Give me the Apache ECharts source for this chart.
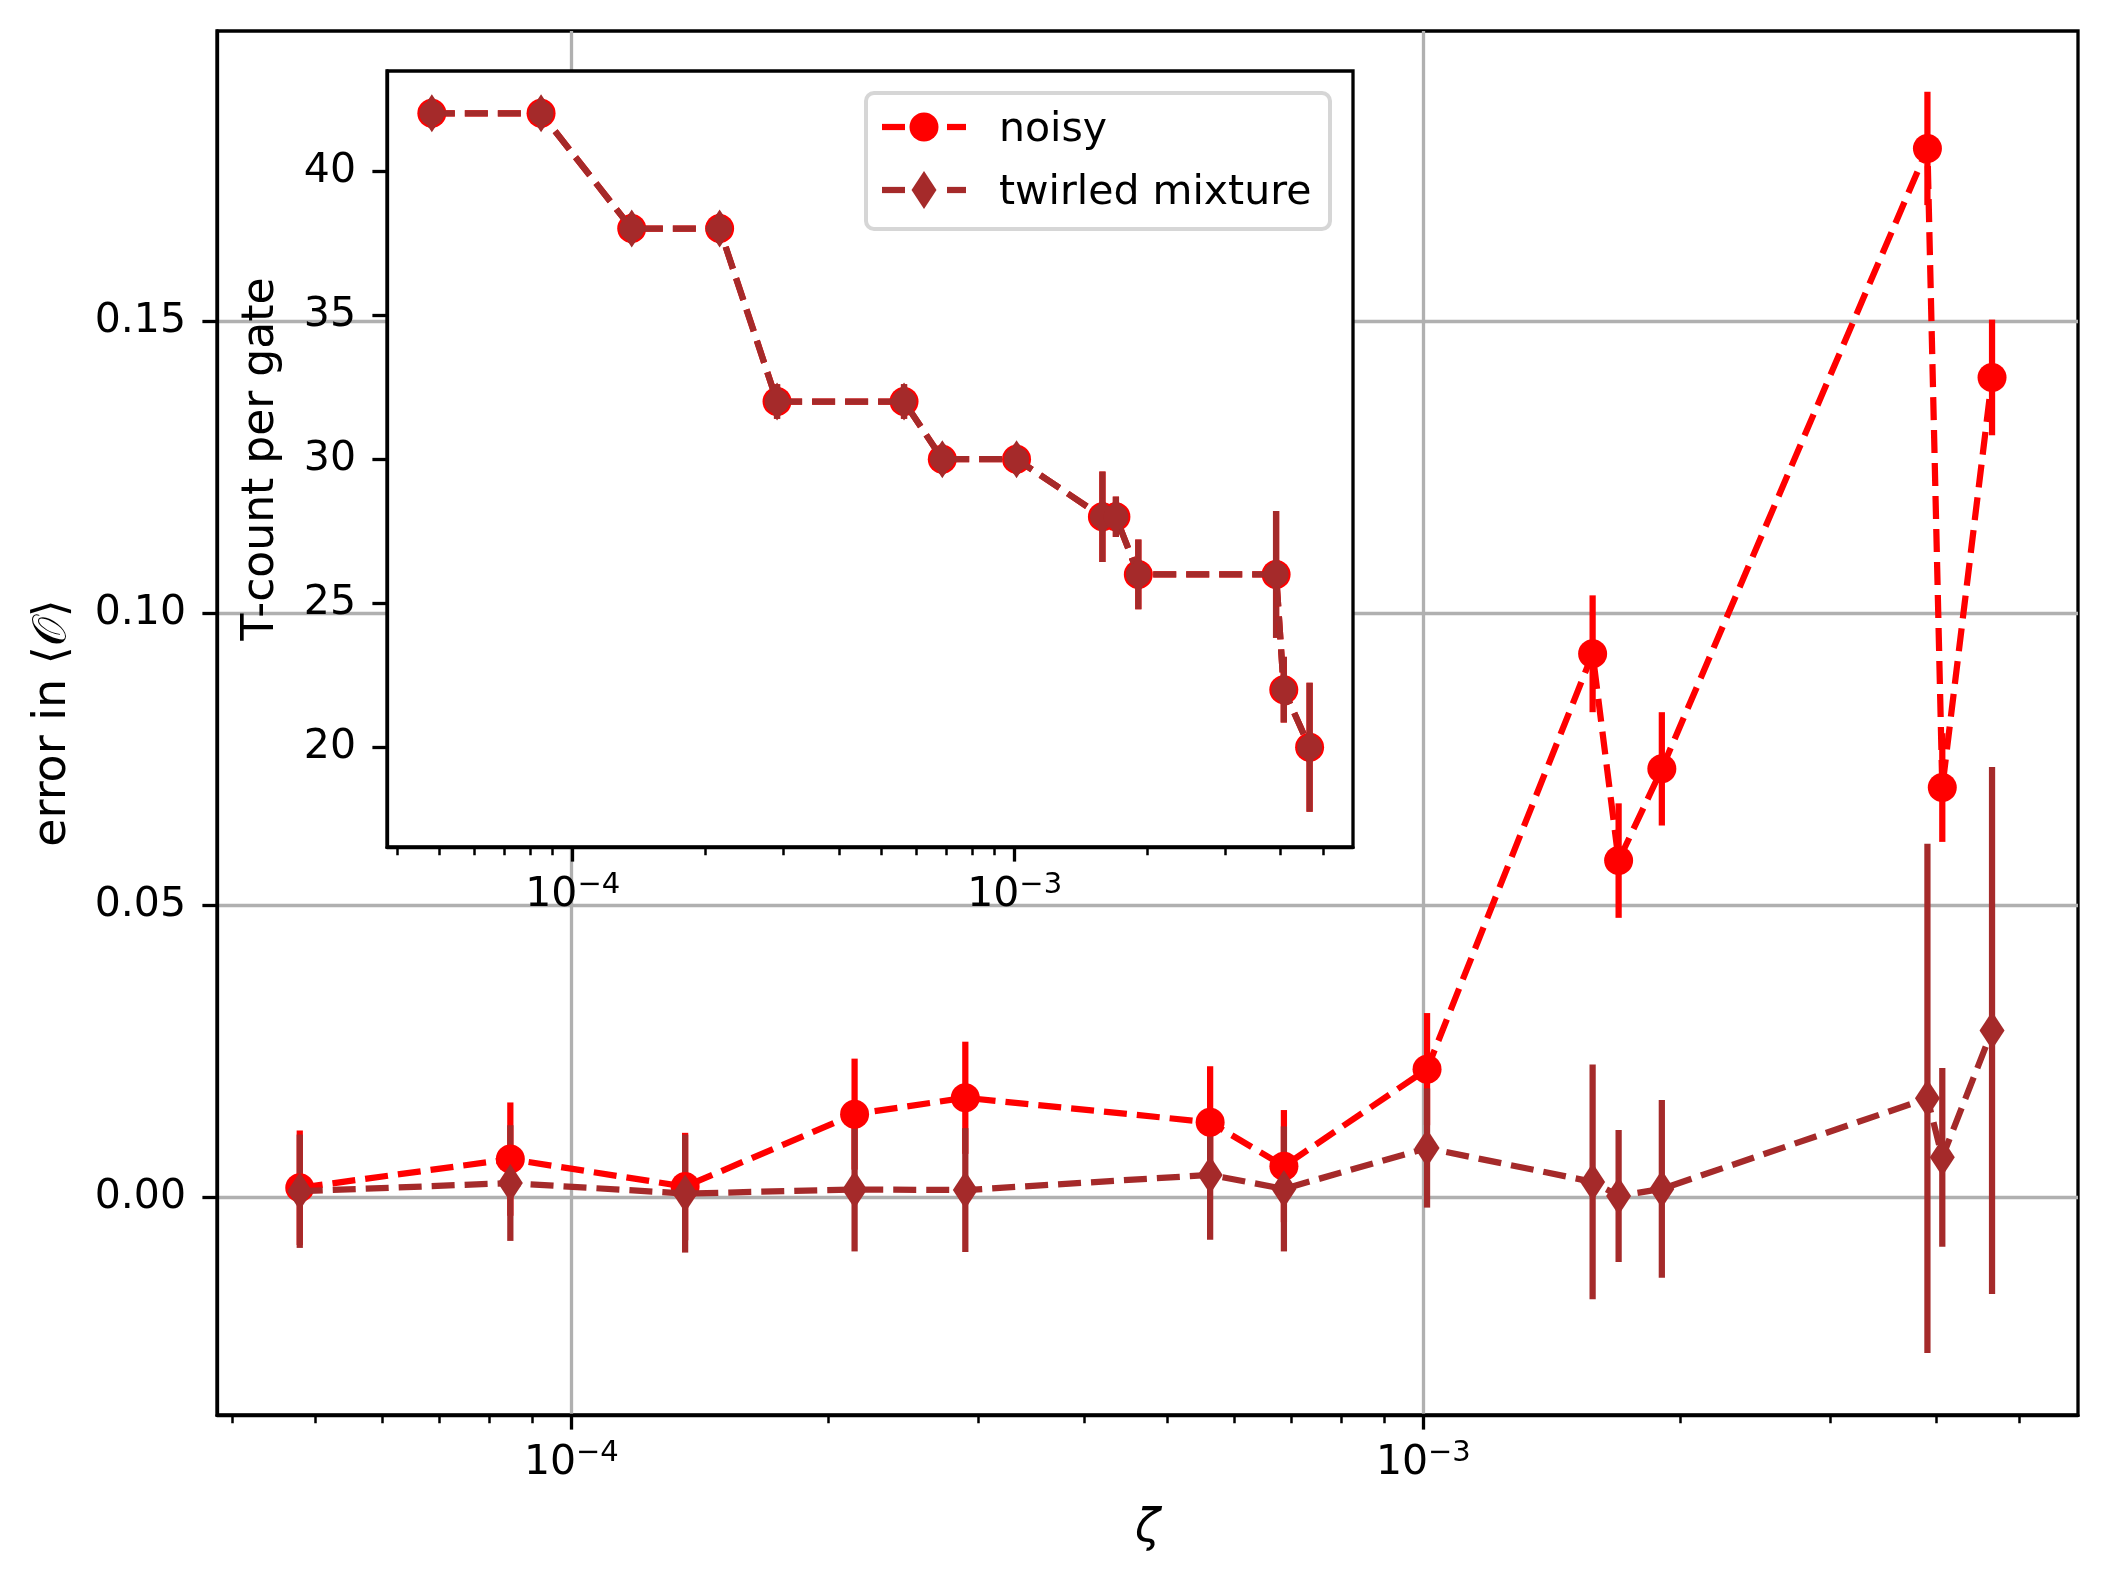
<!DOCTYPE html>
<html>
<head>
<meta charset="utf-8">
<script src="https://cdn.jsdelivr.net/npm/echarts@6/dist/echarts.min.js"></script>
<style>
html,body{margin:0;padding:0;background:#fff;}
#chart{width:2106px;height:1586px;}
</style>
</head>
<body>
<div id="chart"></div>
<script>
// ---- data ----
const zeta = [4.80e-5, 8.48e-5, 1.36e-4, 2.15e-4, 2.90e-4, 5.62e-4, 6.86e-4, 1.01e-3, 1.58e-3, 1.695e-3, 1.905e-3, 3.905e-3, 4.065e-3, 4.65e-3];
const noisyError = [0.0017, 0.0066, 0.0019, 0.0143, 0.0171, 0.0129, 0.0054, 0.0220, 0.0931, 0.0577, 0.0734, 0.1796, 0.0702, 0.1404];
const noisyStd = [0.0098, 0.0097, 0.0092, 0.0095, 0.0096, 0.0096, 0.0096, 0.0096, 0.0100, 0.0098, 0.0097, 0.0097, 0.0093, 0.0099];
const twirledError = [0.0011, 0.0025, 0.0007, 0.0014, 0.0013, 0.0039, 0.0015, 0.0085, 0.0027, 0.0003, 0.0015, 0.0170, 0.0069, 0.0286];
const twirledStd = [0.0097, 0.0099, 0.0101, 0.0106, 0.0106, 0.0111, 0.0107, 0.0102, 0.0201, 0.0113, 0.0152, 0.0436, 0.0153, 0.0451];
const tcountNoisy = [42, 42, 38, 38, 32, 32, 30, 30, 28, 28, 26, 26, 22, 20];
const tcountTwirled = [42, 42, 38, 38, 32, 32, 30, 30, 28, 28, 26, 26, 22, 20];
const tcountStd = [0.5, 0.5, 0.5, 0.5, 0.6, 0.6, 0.5, 0.5, 1.57, 0.7, 1.21, 2.2, 1.14, 2.24];

const xMajorTicks = [1e-4, 1e-3];
const xTickExponents = ['\u22124', '\u22123'];
const xMinorTicks = [4e-5, 5e-5, 6e-5, 7e-5, 8e-5, 9e-5, 2e-4, 3e-4, 4e-4, 5e-4, 6e-4, 7e-4, 8e-4, 9e-4, 2e-3, 3e-3, 4e-3, 5e-3];
const mainYTicks = [0, 0.05, 0.10, 0.15];
const insetYTicks = [20, 25, 30, 35, 40];

const seriesNames = ['noisy', 'twirled mixture'];
const RED = '#ff0000', BROWN = '#a52a2a';
const FONT = 'DejaVu Sans';
const FS = 41;
const NAME_FS = 46;

const chart = echarts.init(document.getElementById('chart'), null, {renderer: 'canvas'});

function xLabel(v) {
  const i = xMajorTicks.findIndex(t => Math.abs(Math.log10(t) - Math.log10(v)) < 1e-6);
  return i < 0 ? '' : '{b|10}{s|' + xTickExponents[i] + '}';
}
const xRich = {
  b: {fontFamily: FONT, fontSize: FS, lineHeight: 48, color: '#000'},
  s: {fontFamily: FONT, fontSize: 29, lineHeight: 26, verticalAlign: 'top', color: '#000'}
};

function barRenderer(color) {
  return function (params, api) {
    const x = api.value(0), y = api.value(1), e = api.value(2);
    const a = api.coord([x, y - e]);
    const b = api.coord([x, y + e]);
    return {type: 'line', shape: {x1: a[0], y1: a[1], x2: b[0], y2: b[1]},
      style: {stroke: color, lineWidth: 6.25, lineCap: 'butt'}};
  };
}
function triples(xs, ys, es) { return xs.map((x, i) => [x, ys[i], es[i]]); }
function pairs(xs, ys) { return xs.map((x, i) => [x, ys[i]]); }

const axisLineStyle = {show: true, onZero: false, lineStyle: {color: '#000', width: 3.3}};
const majorTick = (vals) => ({show: true, customValues: vals, length: 14.6, inside: false, lineStyle: {color: '#000', width: 3.3}});
const minorTick = (vals) => ({show: true, customValues: vals, length: 8.3, inside: false, lineStyle: {color: '#000', width: 2.5}});
const DASH = [23, 10];

const twirledInsetSymbol = 'path://M12.5,0 L25,19 L12.5,38 L0,19 Z M0,19 A12.5,12.5 0 1 1 25,19 A12.5,12.5 0 1 1 0,19 Z';

const mainXMin = 3.838e-5, mainXMax = 5.866e-3;
const insetXMin = 3.80e-5, insetXMax = 5.83e-3;

const option = {
  animation: false,
  backgroundColor: '#fff',
  textStyle: {fontFamily: FONT},
  grid: [
    {left: 217, top: 31, width: 1861, height: 1384, show: true, borderColor: '#000', borderWidth: 3.3, backgroundColor: '#fff'},
    {left: 387, top: 71, width: 966, height: 776, show: true, borderColor: '#000', borderWidth: 3.3, backgroundColor: '#fff', zlevel: 1}
  ],
  xAxis: [
    {type: 'log', gridIndex: 0, min: mainXMin, max: mainXMax,
      axisLine: axisLineStyle, axisTick: majorTick(xMajorTicks),
      axisLabel: {customValues: xMajorTicks, formatter: xLabel, rich: xRich, margin: 24},
      splitLine: {show: true, lineStyle: {color: '#b0b0b0', width: 3.3}},
      name: '\u03b6', nameLocation: 'middle', nameGap: 87,
      nameTextStyle: {fontFamily: FONT, fontStyle: 'italic', fontSize: NAME_FS, color: '#000', lineHeight: 54}},
    {type: 'log', gridIndex: 0, min: mainXMin, max: mainXMax, position: 'bottom',
      axisLine: {show: false, onZero: false}, axisTick: minorTick(xMinorTicks), axisLabel: {show: false}, splitLine: {show: false}},
    {type: 'log', gridIndex: 1, min: insetXMin, max: insetXMax, zlevel: 1,
      axisLine: axisLineStyle, axisTick: majorTick(xMajorTicks),
      axisLabel: {customValues: xMajorTicks, formatter: xLabel, rich: xRich, margin: 24},
      splitLine: {show: false}},
    {type: 'log', gridIndex: 1, min: insetXMin, max: insetXMax, position: 'bottom', zlevel: 1,
      axisLine: {show: false, onZero: false}, axisTick: minorTick(xMinorTicks), axisLabel: {show: false}, splitLine: {show: false}}
  ],
  yAxis: [
    {type: 'value', gridIndex: 0, min: -0.0372, max: 0.1997,
      axisLine: axisLineStyle, axisTick: majorTick(mainYTicks),
      axisLabel: {customValues: mainYTicks, formatter: v => v.toFixed(2), fontFamily: FONT, fontSize: FS, color: '#000', margin: 31},
      splitLine: {show: true, lineStyle: {color: '#b0b0b0', width: 3.3}},
      name: 'error in \u27e8\ud835\udcaa\u27e9', nameLocation: 'middle', nameGap: 137,
      nameTextStyle: {fontFamily: FONT, fontSize: NAME_FS, color: '#000', lineHeight: 54}},
    {type: 'value', gridIndex: 1, min: 16.54, max: 43.47, zlevel: 1,
      axisLine: axisLineStyle, axisTick: majorTick(insetYTicks),
      axisLabel: {customValues: insetYTicks, formatter: v => String(v), fontFamily: FONT, fontSize: FS, color: '#000', margin: 31},
      splitLine: {show: false},
      name: 'T-count per gate', nameLocation: 'middle', nameGap: 99,
      nameTextStyle: {fontFamily: FONT, fontSize: 44, color: '#000', lineHeight: 52}}
  ],
  series: [
    // main panel
    {type: 'custom', name: seriesNames[0] + ' err', xAxisIndex: 0, yAxisIndex: 0, z: 2,
      renderItem: barRenderer(RED), encode: {x: 0, y: 1}, data: triples(zeta, noisyError, noisyStd)},
    {type: 'custom', name: seriesNames[1] + ' err', xAxisIndex: 0, yAxisIndex: 0, z: 3,
      renderItem: barRenderer(BROWN), encode: {x: 0, y: 1}, data: triples(zeta, twirledError, twirledStd)},
    {type: 'line', name: seriesNames[0], xAxisIndex: 0, yAxisIndex: 0, z: 4,
      data: pairs(zeta, noisyError), symbol: 'circle', symbolSize: 29, showSymbol: true,
      lineStyle: {color: RED, width: 6.25, type: DASH}, itemStyle: {color: RED, borderWidth: 0}},
    {type: 'line', name: seriesNames[1], xAxisIndex: 0, yAxisIndex: 0, z: 5,
      data: pairs(zeta, twirledError), symbol: 'diamond', symbolSize: [25, 38], showSymbol: true,
      lineStyle: {color: BROWN, width: 6.25, type: DASH}, itemStyle: {color: BROWN, borderWidth: 0}},
    // inset panel
    {type: 'custom', name: seriesNames[0] + ' T err', xAxisIndex: 2, yAxisIndex: 1, zlevel: 1, z: 2,
      renderItem: barRenderer(RED), encode: {x: 0, y: 1}, data: triples(zeta, tcountNoisy, tcountStd)},
    {type: 'custom', name: seriesNames[1] + ' T err', xAxisIndex: 2, yAxisIndex: 1, zlevel: 1, z: 3,
      renderItem: barRenderer(BROWN), encode: {x: 0, y: 1}, data: triples(zeta, tcountTwirled, tcountStd)},
    {type: 'line', name: seriesNames[0] + ' T', xAxisIndex: 2, yAxisIndex: 1, zlevel: 1, z: 4,
      data: pairs(zeta, tcountNoisy), symbol: 'circle', symbolSize: 29, showSymbol: true,
      lineStyle: {color: RED, width: 6.25, type: DASH}, itemStyle: {color: RED, borderWidth: 0}},
    {type: 'line', name: seriesNames[1] + ' T', xAxisIndex: 2, yAxisIndex: 1, zlevel: 1, z: 5,
      data: pairs(zeta, tcountTwirled), symbol: twirledInsetSymbol, symbolSize: [25, 38], showSymbol: true,
      lineStyle: {color: BROWN, width: 6.25, type: DASH}, itemStyle: {color: BROWN, borderWidth: 0}}
  ],
  graphic: {
    elements: [
      {type: 'rect', zlevel: 2, z: 100, shape: {x: 866, y: 93, width: 464, height: 136, r: 8},
        style: {fill: 'rgba(255,255,255,0.8)', stroke: '#d6d6d6', lineWidth: 4}},
      {type: 'line', zlevel: 2, z: 101, shape: {x1: 882, y1: 127, x2: 905, y2: 127}, style: {stroke: RED, lineWidth: 6.25}},
      {type: 'line', zlevel: 2, z: 101, shape: {x1: 947, y1: 127, x2: 966, y2: 127}, style: {stroke: RED, lineWidth: 6.25}},
      {type: 'circle', zlevel: 2, z: 102, shape: {cx: 924, cy: 127, r: 14.5}, style: {fill: RED}},
      {type: 'line', zlevel: 2, z: 101, shape: {x1: 882, y1: 190, x2: 905, y2: 190}, style: {stroke: BROWN, lineWidth: 6.25}},
      {type: 'line', zlevel: 2, z: 101, shape: {x1: 947, y1: 190, x2: 966, y2: 190}, style: {stroke: BROWN, lineWidth: 6.25}},
      {type: 'polygon', zlevel: 2, z: 102, shape: {points: [[924, 171], [936.5, 190], [924, 209], [911.5, 190]]}, style: {fill: BROWN}},
      {type: 'text', zlevel: 2, z: 103, x: 999, y: 130,
        style: {text: seriesNames[0], font: FS + 'px "DejaVu Sans"', fill: '#000', verticalAlign: 'middle', align: 'left'}},
      {type: 'text', zlevel: 2, z: 103, x: 999, y: 193,
        style: {text: seriesNames[1], font: FS + 'px "DejaVu Sans"', fill: '#000', verticalAlign: 'middle', align: 'left'}}
    ]
  }
};
chart.setOption(option);
</script>
</body>
</html>
